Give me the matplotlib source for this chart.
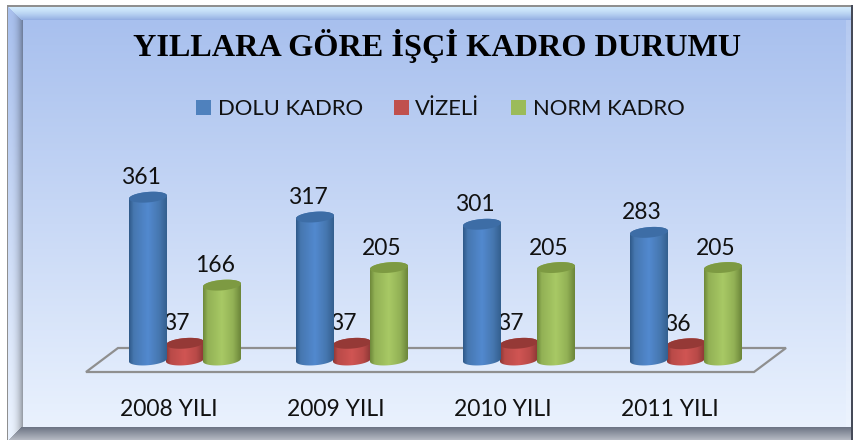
import numpy as np
import matplotlib
matplotlib.use('Agg')
import matplotlib.pyplot as plt
from matplotlib.path import Path
from matplotlib.patches import PathPatch, Polygon

years = ['2008 YILI', '2009 YILI', '2010 YILI', '2011 YILI']
dolu = [361, 317, 301, 283]
vizeli = [37, 37, 37, 36]
norm = [166, 205, 205, 205]
series_names = ['DOLU KADRO', 'VİZELİ', 'NORM KADRO']

W, H = 854, 440
PX_X = 167.0    # pixels per category
PX_Y = 0.451    # pixels per employee
BASE_X = 185    # pixel x of the first group centre
BASE_Y = 360    # pixel y of value 0
plt.rcParams['font.family'] = ['Lato', 'DejaVu Sans']


def lerp(a, b, t):
    t = np.clip(t, 0, 1)[..., None]
    return np.array(a) * (1 - t) + np.array(b) * t


def hexrgb(c):
    return np.array(matplotlib.colors.to_rgb(c))


def panel_image():
    yy, xx = np.mgrid[0:H, 0:W].astype(float)
    img = np.ones((H, W, 3))
    # inner background
    bg = lerp(hexrgb('#a8c0ee'), hexrgb('#eaf2fe'), (yy - 20) / 408)
    img[:] = bg
    # left bevel
    t = (xx - 8) / 15
    left = lerp(bg * 0.98 + 0.02, bg * 0.6, t ** 2.5)
    m = (xx >= 8) & (xx < 23)
    img[m] = left[m]
    # right bevel, thin
    m = (xx >= 846) & (xx < 851)
    img[m] = (bg * 0.85 + 0.15)[m]
    # top bevel
    t = (yy - 6) / 14
    top = lerp(hexrgb('#d2ebfd'), hexrgb('#8eaae0'), t ** 1.5)
    m = (yy < 20) & (xx - 8 >= yy - 6) & (xx < 851)
    img[m] = top[m]
    # bottom bevel
    t = (yy - 427) / 13
    bot = lerp(hexrgb('#6e7686'), hexrgb('#b9bdc6'), t)
    m = (yy >= 427) & (xx - 8 >= 440 - yy)
    img[m] = bot[m]
    # outer line
    img[(yy >= 5) & (yy < 6.5) & (xx >= 7)] = hexrgb('#8f8f8f')
    img[(xx >= 7) & (xx < 8) & (yy >= 5)] = hexrgb('#8f8f8f')
    img[(xx >= 851) & (yy >= 5)] = hexrgb('#454a58')
    img[yy < 5] = 1
    img[xx < 7] = 1
    return img


def ellipse(cx, v, w_px=38.0, h_px=10.5, tilt_px=1.5, t0=0.0, t1=2 * np.pi):
    t = np.linspace(t0, t1, 60)
    dx = w_px / 2 * np.cos(t)
    dy = h_px / 2 * np.sin(t) + tilt_px * np.cos(t)
    return cx + dx / PX_X, v + dy / PX_Y


def cylinder(ax, cx, value, stops, top_color, zorder):
    # bottom half of base + top half of the upper ellipse, then fill with the shading
    xb, yb = ellipse(cx, 0, t0=np.pi, t1=2 * np.pi)
    xt, yt = ellipse(cx, value, t0=0, t1=np.pi)
    verts = np.vstack([np.column_stack([xb, yb]), np.column_stack([xt, yt]), [[xb[0], yb[0]]]])
    clip = PathPatch(Path(verts), transform=ax.transData, fc='none', ec='none')
    ax.add_patch(clip)
    pos = np.linspace(0, 1, 60)
    pts = [0, 0.12, 0.5, 0.8, 1]
    rgb = [hexrgb(c) for c in stops]
    grad = np.stack([np.interp(pos, pts, [c[i] for c in rgb]) for i in range(3)], axis=-1)[None, :, :]
    half = 19.0 / PX_X
    im = ax.imshow(grad, extent=[cx - half, cx + half, -10 / PX_Y, value + 10 / PX_Y],
                   aspect='auto', zorder=zorder, interpolation='bilinear')
    im.set_clip_path(clip)
    xe, ye = ellipse(cx, value)
    ax.fill(xe, ye, color=top_color, zorder=zorder + 0.1, lw=0)


fig = plt.figure(figsize=(W / 100, H / 100), dpi=100)

# panel decoration, in pixels
bg_ax = fig.add_axes([0, 0, 1, 1])
bg_ax.imshow(panel_image(), extent=[0, W, H, 0], aspect='auto', interpolation='nearest')
bg_ax.set_xlim(0, W)
bg_ax.set_ylim(H, 0)
bg_ax.axis('off')
bg_ax.add_patch(Polygon([(86, 372), (118, 348), (786, 348), (754, 372)], closed=True,
                        fc='none', ec='#8f8f8f', lw=1.6))
bg_ax.text(437, 46, 'YILLARA GÖRE İŞÇİ KADRO DURUMU', ha='center', va='center',
           family='Liberation Serif', weight='bold', fontsize=23.2, color='black')

# legend
legend_colors = ['#4f81bd', '#c0504d', '#9bbb59']
legend_x = [196, 394, 511]
text_x = [218, 415, 533]
for name, col, lx, tx in zip(series_names, legend_colors, legend_x, text_x):
    bg_ax.add_patch(plt.Rectangle((lx, 100), 15, 15, fc=col, ec='none'))
    bg_ax.text(tx, 109, name, ha='left', va='center', fontsize=15.8, color='#111111')

# the bars, in data coordinates
ax = fig.add_axes([0, 0, 1, 1])
ax.patch.set_alpha(0)
ax.axis('off')

blue = ['#2f5a8a', '#4677b0', '#5289cf', '#4677b0', '#34608f']
red = ['#8c3735', '#b94a48', '#d05553', '#b94a48', '#8c3735']
green = ['#6f8a3b', '#92b155', '#a8c965', '#92b155', '#6c863a']
offsets = [-37 / PX_X, 0.0, 37 / PX_X]
tops = ['#3d6da6', '#953936', '#7d9a42']

for i, year in enumerate(years):
    for vals, off, st, tc, z, lab_dx in [(vizeli, offsets[1], red, tops[1], 3, -6.5),
                                         (dolu, offsets[0], blue, tops[0], 5, -5),
                                         (norm, offsets[2], green, tops[2], 5, -5)]:
        cylinder(ax, i + off, vals[i], st, tc, z)
        # the small red labels sit behind the neighbouring bars
        ax.annotate(str(vals[i]), (i + off, vals[i]), xytext=(lab_dx, 14), textcoords='offset points',
                    ha='center', va='center', fontsize=16.5, color='#111111', zorder=z - 1 if z == 3 else 7)
    ax.text(i - 16 / PX_X, -49 / PX_Y, year, ha='center', va='center', fontsize=16.5, color='#111111')

ax.set_xlim(-BASE_X / PX_X, (W - BASE_X) / PX_X)
ax.set_ylim(-(H - BASE_Y) / PX_Y, BASE_Y / PX_Y)

fig.savefig('out.png', dpi=100)
